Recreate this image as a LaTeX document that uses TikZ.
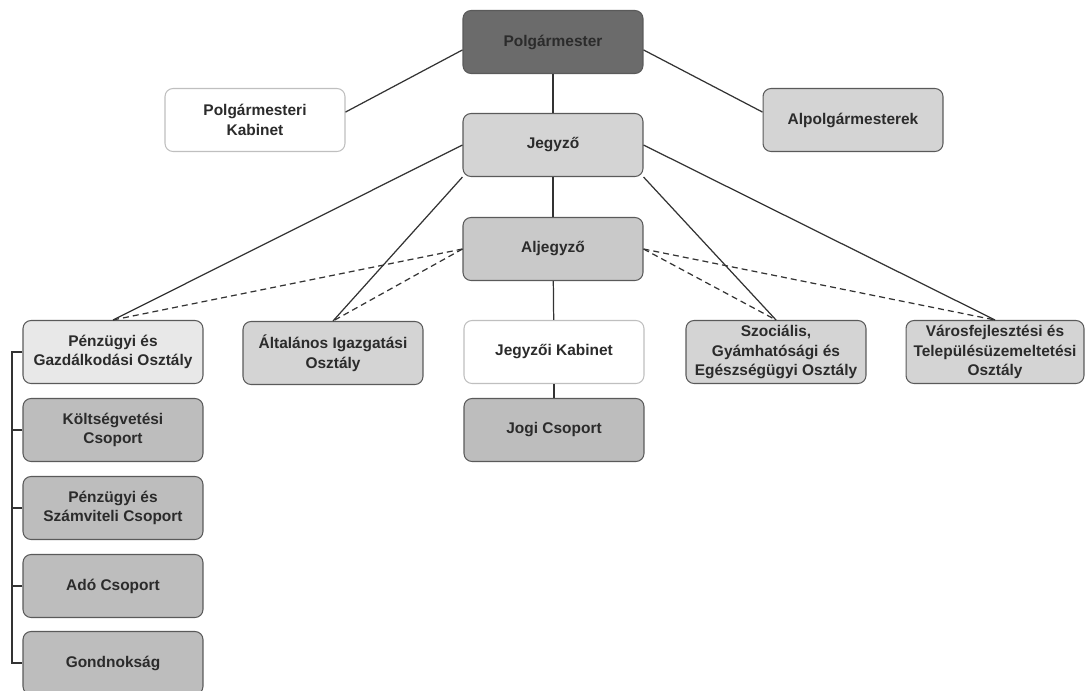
\documentclass[tikz,border=0pt]{standalone}
\usepackage{fontspec}
\setmainfont{Liberation Sans}
\usetikzlibrary{positioning}
\definecolor{txtgray}{HTML}{2B2B2B}
\definecolor{linegray}{HTML}{333333}
\definecolor{bordgray}{HTML}{5A5A5A}
\tikzset{
    orgnode/.style = {rectangle, rounded corners=0.16cm, draw=bordgray, line width=0.6pt, align=center, minimum width=3.6cm, minimum height=1.26cm, inner sep=1pt, font=\fontsize{8.8}{11.2}\selectfont\bfseries, text=txtgray},
    orgnoded/.style = {orgnode, fill=black!58},
    orgnodel/.style = {orgnode, fill=black!17},
    orgnodea/.style = {orgnode, fill=black!21},
    orgnodev/.style = {orgnode, fill=black!9},
    orgnodem/.style = {orgnode, fill=black!26},
    orgnodew/.style = {orgnode, fill=white, draw=black!25},
    edgen/.style = {-, line width=0.7pt, linegray},
    edged/.style = {-, line width=0.7pt, linegray, dash pattern=on 3.4pt off 2.3pt}
}
\begin{document}
\begin{tikzpicture}[x=0.02cm, y=-0.02cm]
\useasboundingbox (0,0) rectangle (1085,690);
\clip (0,0) rectangle (1085,690);

\node[orgnoded] at (553, 42) (polg) {Polgármester};
\node[orgnodew] at (255,120) (kabinet) {Polgármesteri\\Kabinet};
\node[orgnodel] at (853,120) (alpolg) {Alpolgármesterek};
\node[orgnodel] at (553,145) (jegyzo) {Jegyző};
\node[orgnodea] at (553,249) (aljegyzo) {Aljegyző};

\node[orgnodev] at (113,352) (penzugy) {Pénzügyi és\\Gazdálkodási Osztály};
\node[orgnodel] at (333,353) (altalanos) {Általános Igazgatási\\Osztály};
\node[orgnodew] at (554,352) (jkabinet) {Jegyzői Kabinet};
\node[orgnodel] at (776,352) (szoc) {Szociális,\\Gyámhatósági és\\Egészségügyi Osztály};
\node[orgnodel, minimum width=3.56cm] at (995,352) (varos) {Városfejlesztési és\\Településüzemeltetési\\Osztály};

\node[orgnodem] at (554,430) (jogi) {Jogi Csoport};
\node[orgnodem] at (113,430) (koltseg) {Költségvetési\\Csoport};
\node[orgnodem] at (113,508) (pszamv) {Pénzügyi és\\Számviteli Csoport};
\node[orgnodem] at (113,586) (ado) {Adó Csoport};
\node[orgnodem] at (113,663) (gondnok) {Gondnokság};

\coordinate (brtop) at (12,352);
\coordinate (brbot) at (12,663);

\draw[edgen] (polg.185) -- (kabinet.5);
\draw[edgen] (polg.-5) -- (alpolg.175);
\draw[edgen] (polg) -- (jegyzo);
\draw[edgen] (jegyzo) -- (aljegyzo);
\draw[edgen] (aljegyzo) -- (jkabinet);
\draw[edgen] (jkabinet) -- (jogi);

\draw[edgen] (jegyzo.west) -- (penzugy.north);
\draw[edgen] (jegyzo.south west) -- (altalanos.north);
\draw[edgen] (jegyzo.south east) -- (szoc.north);
\draw[edgen] (jegyzo.east) -- (varos.north);

\draw[edged] (aljegyzo.west) -- (penzugy.north);
\draw[edged] (aljegyzo.west) -- (altalanos.north);
\draw[edged] (aljegyzo.east) -- (szoc.north);
\draw[edged] (aljegyzo.east) -- (varos.north);

% left bracket
\draw[edgen] (penzugy.west) -- (brtop) -- (brbot) -- (gondnok.west);
\foreach \n in {koltseg,pszamv,ado}
    \draw[edgen] (\n.west) -- (\n.west -| brtop);

\end{tikzpicture}
\end{document}
